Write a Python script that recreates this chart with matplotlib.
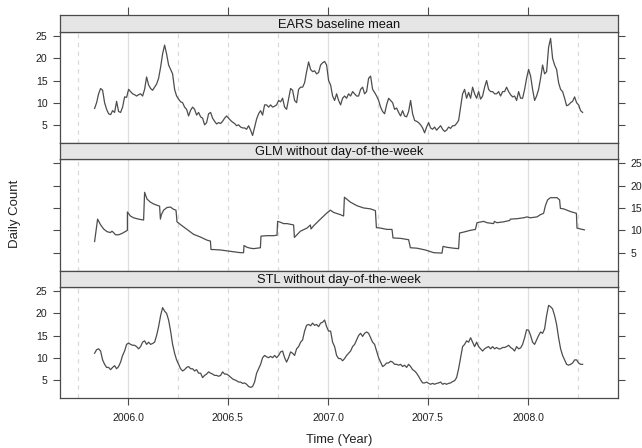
import matplotlib

matplotlib.use("Agg")
import matplotlib.pyplot as plt
import numpy as np

plt.rcParams["font.family"] = ["Liberation Sans", "DejaVu Sans"]

# Daily counts, smoothed baselines sampled every 0.01 year from START.
START = 2005.833
STEP = 0.01

EARS_MEAN = [
    8.7, 10, 12, 13.2, 12.8, 10, 8.5, 7.5, 7.3, 8.2,
    7.8, 10.3, 8, 7.8, 9, 11.3, 11.2, 13, 12.5, 12,
    11.8, 11.5, 11.8, 12, 11.5, 13, 15.8, 14, 13.2, 12.8,
    13.5, 14.2, 15.5, 18, 21, 23, 21, 18.5, 17.5, 16.5,
    13, 11.5, 10.8, 10.2, 10, 9, 8.5, 7, 8.3, 9,
    8.5, 7.2, 7.8, 6.8, 6.5, 5, 5.5, 7.5, 7.8, 6.5,
    5.8, 5.2, 5.5, 5.3, 5.8, 6.5, 7, 6.5, 6, 5.6,
    5.3, 4.8, 5, 4.5, 4.3, 4.3, 4, 4.8, 3.8, 2.6,
    4.5, 6.3, 7.5, 8.2, 7.2, 9.5, 9.5, 9, 9.5, 9,
    9.2, 9.5, 10.5, 10.2, 11, 9, 8.5, 10.8, 13.2, 12.8,
    10.5, 10, 13, 13.5, 13.5, 14.5, 17, 19.2, 17.5, 17,
    17.2, 16.5, 16.8, 18.5, 19, 19.3, 18.5, 15,
    14, 11.5, 10.5, 12, 10.5, 9.5, 11, 11.5, 11, 12,
    11.5, 12.5, 12, 11.5, 11.5, 13, 13.5, 12, 12.5, 15.5,
    16, 13, 12.3, 11.5, 10.5, 9, 8, 7.5, 9.5, 11,
    10.5, 10, 8.5, 8.8, 7.8, 7, 8.2, 7, 6.8, 8,
    10.5, 7.5, 6, 5.8, 5.5, 5, 4.3, 3.2, 4.5, 5.5,
    4.3, 4, 4.5, 3.8, 4.3, 4.8, 4, 3.5, 3.8, 4.5,
    4.2, 4.8, 4.8, 5.3, 6, 9, 12, 13, 11, 12.3,
    11, 13.5, 12, 11, 12.5, 10.8, 11.5, 13.5, 15, 13,
    12.5, 12.5, 12, 12, 12.5, 11.5, 12.5, 12.5, 13.5, 12.5,
    11.8, 11.3, 11.5, 10.5, 12.5, 11, 11, 13, 15.5, 17.5,
    16, 13, 10.5, 11.5, 13, 15.5, 18.5, 16.5, 17, 22.5,
    24.5, 20, 18.5, 17.5, 14.5, 13, 12.5, 11, 9.3, 9.5,
    10, 10.3, 11.3, 10, 9.5, 8.2, 7.8,
]

STL_NO_DOW = [
    11, 11.8, 12, 11.5, 9.5, 8.5, 7.8, 7.8, 7.3, 7.8,
    8.2, 7.5, 8, 9, 10.5, 11.5, 13, 13.3, 13, 12.8,
    12.8, 12.5, 12, 12.5, 13.5, 13.8, 13, 13.5, 13, 13.2,
    13.5, 15, 17, 19.5, 21.3, 20.5, 20, 18.5, 16, 13,
    11, 9.5, 8.5, 7.5, 7, 7.3, 7.8, 8, 7.5, 7.5,
    7, 7.3, 6.5, 6.5, 5.5, 6, 6.3, 6.8, 6.5, 6.3,
    6, 6, 5.8, 6, 6.8, 6.3, 6.3, 6, 5.6, 5.2,
    5, 4.8, 4.5, 4.5, 4.2, 4.3, 4, 3.5, 3.3, 3.5,
    4.5, 6.5, 7.5, 8.5, 10, 10.5, 10.2, 10, 10.3, 10,
    10.5, 10, 10.5, 11.3, 11.5, 10, 9, 10, 11.3, 11,
    10.5, 12, 12.5, 13.5, 14, 16, 17.3, 17.5, 17.2, 17.8,
    17.3, 17.5, 17, 17.8, 18, 18.5, 17, 16,
    16, 13.5, 12.5, 10.5, 9.8, 9.8, 9.3, 9.8, 10.5, 11,
    11.5, 12.5, 13, 14, 15, 15.5, 14.8, 15.5, 15.8, 15.5,
    14.5, 13.5, 13, 11.5, 10, 9, 8, 8.3, 8.8, 8.8,
    9.2, 9, 8.5, 8.5, 8.3, 8.5, 8, 8.3, 7.8, 8.5,
    8, 7.3, 7, 6.5, 5.8, 5, 4.3, 4.3, 4.5, 4.2,
    4, 4.2, 4, 4.2, 4.3, 4.5, 4, 4.2, 4, 4.2,
    4.3, 4.6, 4.8, 5.5, 7.5, 10, 12.5, 13, 13.8, 13.5,
    14.5, 13.5, 12.5, 13.5, 12.5, 12, 11.5, 12, 12.3, 12.5,
    12, 12.5, 12, 12.3, 12, 12, 12.3, 12.3, 12.5, 12.8,
    12.3, 12, 11.5, 12.5, 12, 12.2, 13, 14.5, 16.3, 16.2,
    15, 13.5, 13, 14, 15, 15.8, 15.5, 16.5, 19.5, 21.8,
    21.5, 21, 19.5, 17.5, 14.5, 12, 10.5, 9.5, 8.5, 8.3,
    8.5, 8.8, 9.5, 9.5, 8.8, 8.5, 8.5,
]

# GLM fit is piecewise (refit at each step), so it is kept as explicit vertices.
GLM_TIME = [
    2005.833, 2005.848, 2005.862, 2005.878, 2005.895, 2005.912, 2005.920, 2005.928,
    2005.937, 2005.953, 2005.970, 2005.997,
    2005.997, 2006.012, 2006.028, 2006.053, 2006.078,
    2006.083, 2006.095, 2006.112, 2006.128, 2006.145, 2006.158,
    2006.162, 2006.167, 2006.178, 2006.195, 2006.212, 2006.228, 2006.240,
    2006.245, 2006.262, 2006.295, 2006.328, 2006.362, 2006.395, 2006.412,
    2006.415, 2006.428, 2006.462, 2006.495, 2006.528, 2006.562, 2006.578,
    2006.580, 2006.595, 2006.612, 2006.628, 2006.662,
    2006.665, 2006.695, 2006.728, 2006.745,
    2006.748, 2006.762, 2006.778, 2006.795, 2006.828,
    2006.832, 2006.862, 2006.895, 2006.912, 2006.915, 2006.928, 2006.962, 2006.995,
    2007.012, 2007.028, 2007.062, 2007.078,
    2007.082, 2007.112, 2007.145, 2007.178, 2007.212, 2007.237,
    2007.242, 2007.262, 2007.295, 2007.320,
    2007.325, 2007.362, 2007.403,
    2007.412, 2007.445, 2007.487, 2007.528, 2007.570,
    2007.575, 2007.595, 2007.628, 2007.653,
    2007.658, 2007.678, 2007.712, 2007.737,
    2007.745, 2007.778, 2007.795, 2007.828, 2007.832, 2007.845, 2007.878, 2007.908,
    2007.912, 2007.945, 2007.978, 2007.995, 2008.012, 2008.045, 2008.062, 2008.078,
    2008.087, 2008.098, 2008.112, 2008.145, 2008.158,
    2008.162, 2008.178, 2008.212, 2008.242,
    2008.245, 2008.262, 2008.282,
]
GLM_NO_DOW = [
    7.5, 12.5, 11.3, 10.3, 9.7, 9.5, 9.8, 9.5,
    9.0, 9.0, 9.3, 10.0,
    14.1, 13.2, 12.8, 12.5, 12.3,
    18.5, 17.0, 16.3, 15.9, 15.6, 15.4,
    12.5, 13.5, 14.5, 15.1, 15.2, 14.7, 14.5,
    11.9, 11.3, 10.2, 9.1, 8.5, 7.8, 7.6,
    5.7, 5.7, 5.6, 5.4, 5.2, 5.0, 5.0,
    6.6, 6.2, 6.0, 5.9, 6.1,
    8.7, 8.8, 8.8, 8.9,
    12.0, 11.8, 11.5, 11.5, 11.2,
    8.4, 9.8, 10.5, 11.2, 10.3, 11.0, 12.5, 13.9,
    14.5, 14.0, 13.5, 13.2,
    17.4, 16.3, 15.5, 15.0, 14.8, 14.4,
    10.6, 10.5, 10.2, 10.2,
    8.3, 8.2, 7.9,
    6.1, 6.0, 5.6, 5.0, 4.9,
    6.4, 6.2, 6.0, 5.9,
    9.4, 9.6, 10.0, 10.2,
    11.7, 12.0, 11.7, 11.5, 12.0, 11.7, 11.9, 12.2,
    12.5, 12.6, 12.8, 13.0, 12.8, 13.0, 13.5, 13.8,
    15.5, 16.8, 17.3, 17.3, 16.8,
    14.9, 14.8, 14.2, 13.8,
    10.5, 10.3, 10.1,
]

PANEL_TITLES = ["EARS baseline mean", "GLM without day-of-the-week", "STL without day-of-the-week"]
X_TICKS = [2006.0, 2006.5, 2007.0, 2007.5, 2008.0]
Y_TICKS = [5, 10, 15, 20, 25]
YEAR_LINES = [2006.0, 2007.0, 2008.0]
QUARTER_LINES = [2005.75, 2006.25, 2006.5, 2006.75, 2007.25, 2007.5, 2007.75, 2008.25]
XLIM = (2005.66, 2008.45)
YLIM = (0.9, 25.95)

FIG_W, FIG_H = 642, 448
LEFT, RIGHT = 60, 618
PANEL_ROWS = [(32, 143), (159, 271), (287, 398)]  # top, bottom in pixels
STRIP_H = 16.5
FRAME = "#4a4a4a"
LINE = "#4d4d4d"


def box(top, bottom):
    return [LEFT / FIG_W, 1 - bottom / FIG_H, (RIGHT - LEFT) / FIG_W, (bottom - top) / FIG_H]


def series_time(values):
    return START + STEP * np.arange(len(values))


def main() -> None:
    fig = plt.figure(figsize=(FIG_W / 100, FIG_H / 100), dpi=100)

    series = [
        (series_time(EARS_MEAN), np.array(EARS_MEAN)),
        (np.array(GLM_TIME), np.array(GLM_NO_DOW)),
        (series_time(STL_NO_DOW), np.array(STL_NO_DOW)),
    ]

    for i, ((top, bottom), title, (t, y)) in enumerate(zip(PANEL_ROWS, PANEL_TITLES, series)):
        ax = fig.add_axes(box(top, bottom))
        for xv in YEAR_LINES:
            ax.axvline(xv, color="#dedede", lw=0.9, zorder=1)
        for xv in QUARTER_LINES:
            ax.axvline(xv, color="#dadada", lw=0.9, ls=(0, (3.5, 3.5)), zorder=1)
        ax.plot(t, y, color=LINE, lw=0.9, zorder=3)
        ax.set_xlim(*XLIM)
        ax.set_ylim(*YLIM)
        ax.set_yticks(Y_TICKS)
        ax.set_xticks(X_TICKS)
        for sp in ax.spines.values():
            sp.set_color(FRAME)
            sp.set_linewidth(0.9)

        ax.tick_params(axis="y", direction="out", length=5, width=0.8, color=FRAME,
                       labelsize=7.6, pad=4, left=True, right=True,
                       labelleft=(i != 1), labelright=(i == 1), labelcolor="#222222")
        last = i == len(PANEL_ROWS) - 1
        ax.tick_params(axis="x", direction="out", length=5, width=0.8, color=FRAME,
                       labelsize=7.6, pad=6, top=False, bottom=last,
                       labelbottom=last, labelcolor="#222222")
        if last:
            ax.set_xticklabels([f"{v:.1f}" for v in X_TICKS])

        strip = fig.add_axes(box(top - STRIP_H, top))
        strip.set_facecolor("#e5e5e5")
        strip.set_xlim(*XLIM)
        strip.set_yticks([])
        if i == 0:
            strip.set_xticks(X_TICKS)
            strip.tick_params(axis="x", direction="out", length=6, width=0.8, color=FRAME,
                              top=True, bottom=False, labeltop=False, labelbottom=False)
        else:
            strip.set_xticks([])
        for sp in strip.spines.values():
            sp.set_color(FRAME)
            sp.set_linewidth(0.9)
        strip.text(0.5, 0.45, title, transform=strip.transAxes, ha="center", va="center",
                   fontsize=9.3, color="#111111")

    fig.text(15 / FIG_W, 1 - 214 / FIG_H, "Daily Count", rotation=90, ha="center",
             va="center", fontsize=9.5, color="#222222")
    fig.text(339 / FIG_W, 1 - 440 / FIG_H, "Time (Year)", ha="center", va="center",
             fontsize=9.3, color="#222222")

    fig.savefig("out.png", dpi=100)
    plt.close(fig)


if __name__ == "__main__":
    main()
